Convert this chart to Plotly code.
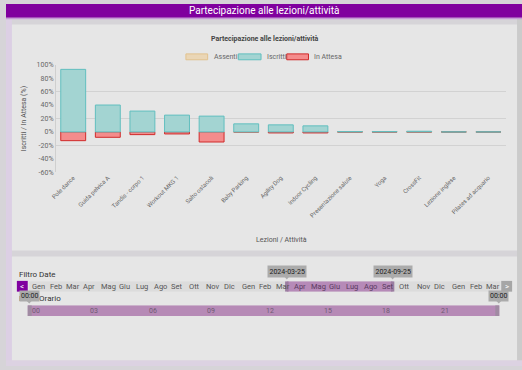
import plotly.graph_objects as go

# ---------------- data ----------------
categories = ["Pole dance", "Guida pelvica A", "Tandis - corpo 1", "Workout MKG 1",
              "Salto ostacoli", "Baby Parking", "Agility Dog", "Indoor Cycling",
              "Presentazione salute", "Yoga", "CrossFit", "Lezione inglese",
              "Pilates ad acquario"]
assenti = [0, 0, 0, 0, 0, 0, 0, 0, 0, 0, 0, 0, 0]
iscritti = [93, 40, 31, 25, 23.5, 12, 10.5, 9, 0.5, 0.5, 1, 0, 0]
in_attesa = [13, 8, 4, 3, 15, 0, 1.5, 1.5, 0, 0, 0, 0, 0]

y_ticks = [-60, -40, -20, 0, 20, 40, 60, 80, 100]

month_names = ["Gen", "Feb", "Mar", "Apr", "Mag", "Giu", "Lug", "Ago", "Set", "Ott", "Nov", "Dic"]
month_starts = [f"{y}-{m:02d}-01" for y in (2023, 2024, 2025) for m in range(1, 13)][:27]
month_labels = [month_names[i % 12] for i in range(27)]
range_start = "2024-03-25"
range_end = "2024-09-25"
hour_ticks = [0, 3, 6, 9, 12, 15, 18, 21]

W, H = 522, 370
FONT = "Roboto"


def P(x):
    return x / W


def Q(y):
    return 1 - y / H


fig = go.Figure()

fig.add_trace(go.Bar(x=categories, y=assenti, name="Assenti",
                     marker=dict(color="#ead6b6", line=dict(color="#e2c28e", width=1)),
                     showlegend=False))
fig.add_trace(go.Bar(x=categories, y=[-v for v in in_attesa], name="In Attesa",
                     marker=dict(color="#f48c8c", line=dict(color="#d02a2a", width=1)),
                     showlegend=False))
fig.add_trace(go.Bar(x=categories, y=iscritti, name="Iscritti",
                     marker=dict(color="#a3d4d2", line=dict(color="#62bfbf", width=1)),
                     showlegend=False))

# invisible traces so the helper axes of the filter widgets exist
fig.add_trace(go.Scatter(x=[month_starts[0], "2025-04-01"], y=[0, 1], xaxis="x2", yaxis="y2",
                         mode="markers", marker=dict(opacity=0), hoverinfo="skip", showlegend=False))
fig.add_trace(go.Scatter(x=[0, 24], y=[0, 1], xaxis="x3", yaxis="y3",
                         mode="markers", marker=dict(opacity=0), hoverinfo="skip", showlegend=False))

shapes = []
# page backgrounds
shapes.append(dict(type="rect", xref="paper", yref="paper", x0=0, x1=1, y0=0, y1=1,
                   fillcolor="#d6d4d8", line=dict(width=0), layer="below"))
shapes.append(dict(type="rect", xref="paper", yref="paper", x0=P(0), x1=P(6), y0=0, y1=Q(15),
                   fillcolor="#dccfe4", line=dict(width=0), layer="below"))
shapes.append(dict(type="rect", xref="paper", yref="paper", x0=P(0), x1=P(522), y0=0, y1=Q(364),
                   fillcolor="#dcd2e2", line=dict(width=0), layer="below"))
shapes.append(dict(type="rect", xref="paper", yref="paper", x0=P(517), x1=P(522), y0=Q(364), y1=Q(15),
                   fillcolor="#cbcbcb", line=dict(width=0), layer="below"))
# header bar
shapes.append(dict(type="rect", xref="paper", yref="paper", x0=0, x1=1, y0=Q(14), y1=1,
                   fillcolor="#80009e", line=dict(width=0), layer="below"))
shapes.append(dict(type="rect", xref="paper", yref="paper", x0=0, x1=1, y0=Q(15.5), y1=Q(14),
                   fillcolor="#c69ad6", line=dict(width=0), layer="below"))
# cards
shapes.append(dict(type="rect", xref="paper", yref="paper", x0=P(6), x1=P(517), y0=Q(252), y1=Q(21),
                   fillcolor="#e6e6e6", line=dict(width=0), layer="below"))
shapes.append(dict(type="rect", xref="paper", yref="paper", x0=P(6), x1=P(517), y0=Q(364), y1=Q(258),
                   fillcolor="#e6e6e6", line=dict(width=0), layer="below"))

# legend swatches
for (x0, x1, fc, lc) in [(182, 204, "#ead6b6", "#e2c28e"), (235, 258, "#a3d4d2", "#62bfbf"),
                         (284, 306, "#f48c8c", "#d02a2a")]:
    shapes.append(dict(type="rect", xref="paper", yref="paper", x0=P(x0), x1=P(x1), y0=Q(57), y1=Q(51),
                       fillcolor=fc, line=dict(color=lc, width=1)))

# date strip and selected range
shapes.append(dict(type="rect", xref="x2", yref="y2", x0=month_starts[0], x1="2025-04-01", y0=0, y1=1,
                   fillcolor="#dcdcdc", line=dict(width=0), layer="below"))
shapes.append(dict(type="rect", xref="x2", yref="y2", x0=range_start, x1=range_end, y0=0, y1=1,
                   fillcolor="#b68ab8", line=dict(width=0), layer="below"))
for d0, d1 in [("2024-03-22", "2024-03-28"), ("2024-09-22", "2024-09-28")]:
    shapes.append(dict(type="rect", xref="x2", yref="y2", x0=d0, x1=d1, y0=0, y1=1,
                       fillcolor="#9b7da0", line=dict(width=0), layer="below"))
# tooltip pointers of the date labels
for a, m, b in [("2024-03-20", range_start, "2024-03-30"), ("2024-09-20", range_end, "2024-09-30")]:
    shapes.append(dict(type="path", xref="x2", yref="paper",
                       path=f"M {a} {Q(278)} L {b} {Q(278)} L {m} {Q(281.5)} Z",
                       fillcolor="#ababab", line=dict(width=0)))
# nav buttons
shapes.append(dict(type="rect", xref="paper", yref="paper", x0=P(11), x1=P(22), y0=Q(294), y1=Q(283),
                   fillcolor="#8000a0", line=dict(width=0)))
shapes.append(dict(type="rect", xref="paper", yref="paper", x0=P(501), x1=P(512), y0=Q(294), y1=Q(283),
                   fillcolor="#a6a6a6", line=dict(width=0)))
# time bar
shapes.append(dict(type="rect", xref="paper", yref="y3", x0=P(22), x1=P(499), y0=0, y1=1,
                   fillcolor="#b68ab6", line=dict(width=0), layer="below"))
shapes.append(dict(type="rect", xref="paper", yref="y3", x0=P(22), x1=P(26), y0=0, y1=1,
                   fillcolor="#a08aa2", line=dict(width=0)))
shapes.append(dict(type="rect", xref="paper", yref="y3", x0=P(495), x1=P(499), y0=0, y1=1,
                   fillcolor="#a08aa2", line=dict(width=0)))
for xc in (23.5, 498.5):
    shapes.append(dict(type="path", xref="paper", yref="paper",
                       path=f"M {P(xc-3)} {Q(303)} L {P(xc+3)} {Q(303)} L {P(xc)} {Q(306)} Z",
                       fillcolor="#ababab", line=dict(width=0)))

annotations = []


def txt(text, x, y, size=7, color="#666", xanchor="center", **kw):
    d = dict(text=text, x=x, y=y, showarrow=False, xanchor=xanchor, yanchor="middle",
             font=dict(family=FONT, size=size, color=color))
    d.setdefault("xref", "paper")
    d.setdefault("yref", "paper")
    d.update(kw)
    annotations.append(d)


txt("Partecipazione alle lezioni/attività", P(261), Q(7), size=10, color="white")
txt("<b>Partecipazione alle lezioni/attività</b>", P(262), Q(35.5), size=7, color="#444")
for x, t in [(208, "Assenti"), (262, "Iscritti"), (310, "In Attesa")]:
    txt(t, P(x), Q(54), size=7, color="#666", xanchor="left")
txt("Iscritti / In Attesa (%)", P(19), Q(117), size=7, color="#555", textangle=-90)
txt("Lezioni / Attività", P(279), Q(241), size=7, color="#555")
# filter card
txt("Filtro Date", P(11), Q(276), size=8, color="#333", xanchor="left")
txt("Filtro Orario", P(11), Q(301), size=8, color="#333", xanchor="left")
txt("<", P(16.5), Q(288.5), size=8, color="white")
txt(">", P(506.5), Q(288.5), size=8, color="white")
for ms, ml in zip(month_starts, month_labels):
    inside = "2024-04-01" <= ms <= "2024-09-01"
    txt(ml, ms, 0.5, size=7.5, color="#5a3a60" if inside else "#555", xanchor="left",
        xref="x2", yref="y2", xshift=1)
for d in (range_start, range_end):
    txt(d, d, Q(273.5), size=7, color="#222", xref="x2", bgcolor="#ababab", borderpad=1.5)
for h in hour_ticks:
    txt(f"{h:02d}", h, 0.5, size=7, color="#6e5a72", xanchor="left", xref="x3", yref="y3", xshift=2)
for xc in (23.5, 498.5):
    txt("00:00", P(xc), Q(298.5), size=7, color="#222", bgcolor="#ababab", borderpad=1)

fig.update_layout(
    width=W, height=H,
    margin=dict(l=0, r=0, t=0, b=0),
    paper_bgcolor="#d6d4d8",
    plot_bgcolor="rgba(0,0,0,0)",
    barmode="relative",
    bargap=0.28,
    showlegend=False,
    font=dict(family=FONT, size=7, color="#666"),
    shapes=shapes,
    annotations=annotations,
    xaxis=dict(domain=[P(50.5), P(505.5)], anchor="y", tickangle=-45, showgrid=False,
               showline=False, zeroline=False, ticks="", tickfont=dict(size=6, color="#666")),
    yaxis=dict(domain=[Q(172), Q(62)], anchor="x", range=[-60, 100], tickvals=y_ticks,
               ticktext=[f"{v}%" for v in y_ticks],
               showgrid=False, zeroline=False, showline=True, linecolor="#cfcfcf",
               ticks="", tickfont=dict(size=7, color="#666"),
               minor=dict(tickvals=[-60, -20, 20, 60], showgrid=True, gridcolor="#d2d2d2",
                          gridwidth=1, ticks="")),
    xaxis2=dict(domain=[P(23), P(500.4)], anchor="y2", type="date",
                range=[month_starts[0], "2025-04-01"], visible=False),
    yaxis2=dict(domain=[Q(294), Q(283.5)], anchor="x2", range=[0, 1], visible=False),
    xaxis3=dict(domain=[P(22), P(495)], anchor="y3", range=[0, 24], visible=False),
    yaxis3=dict(domain=[Q(319), Q(308)], anchor="x3", range=[0, 1], visible=False),
)

post = """
document.documentElement.style.margin='0';
document.body.style.margin='0';
document.body.style.padding='0';
document.body.style.overflow='hidden';
var gds=document.getElementsByClassName('plotly-graph-div');
for (var i=0;i<gds.length;i++){gds[i].style.position='fixed';gds[i].style.top='0px';gds[i].style.left='0px';}
"""
fig.write_html("out.html", config={"displayModeBar": False}, post_script=post)
